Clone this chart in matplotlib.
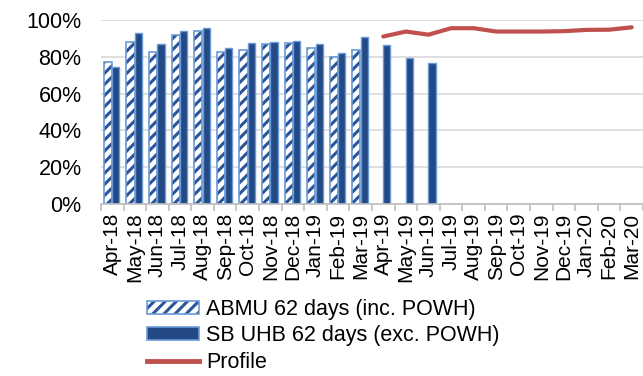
import matplotlib
matplotlib.use("Agg")
import matplotlib.pyplot as plt
import numpy as np
from matplotlib.patches import Patch
from matplotlib.lines import Line2D
from matplotlib.legend_handler import HandlerTuple
from matplotlib.ticker import PercentFormatter, FixedLocator

plt.rcParams['font.family'] = ['Liberation Sans', 'DejaVu Sans']
plt.rcParams['hatch.linewidth'] = 2.2

months = ["Apr-18", "May-18", "Jun-18", "Jul-18", "Aug-18", "Sep-18", "Oct-18", "Nov-18",
          "Dec-18", "Jan-19", "Feb-19", "Mar-19", "Apr-19", "May-19", "Jun-19", "Jul-19",
          "Aug-19", "Sep-19", "Oct-19", "Nov-19", "Dec-19", "Jan-20", "Feb-20", "Mar-20"]
abmu = [77.2, 88.2, 82.6, 92.0, 93.8, 82.6, 83.9, 87.1, 87.7, 85.0, 80.1, 83.9]
sbuhb = [74.6, 93.1, 87.0, 94.2, 95.7, 85.0, 87.5, 88.0, 88.8, 87.0, 82.1, 90.6,
         86.4, 79.5, 76.5]
profile_months = months[12:]
profile = [91.0, 93.7, 92.0, 95.5, 95.5, 93.7, 93.7, 93.7, 93.9, 94.6, 94.7, 96.0]

labels = ["ABMU 62 days (inc. POWH)", "SB UHB 62 days (exc. POWH)", "Profile"]

hatch_col = "#2B5597"
edge_light = "#6A9AD8"
sb_fill = "#244A86"
red = "#C0504D"

fig = plt.figure(figsize=(6.43, 3.76), dpi=100)
ax = fig.add_axes([0.157, 0.457, 0.843, 0.49])

x = np.arange(len(months))
xa = x[:len(abmu)]
xs = x[:len(sbuhb)]
ya = np.array(abmu) / 100
ys = np.array(sbuhb) / 100

ax.bar(xa - 0.19, ya, width=0.36, facecolor="white", edgecolor=hatch_col,
       hatch="///", linewidth=0, zorder=2)
ax.bar(xa - 0.19, ya, width=0.36, facecolor="none", edgecolor=edge_light,
       linewidth=1.2, zorder=3)
ax.bar(xs + 0.16, ys, width=0.32, facecolor=sb_fill, edgecolor=edge_light,
       linewidth=1.0, zorder=3)
xp = np.array([months.index(m) for m in profile_months])
ax.plot(xp, np.array(profile) / 100, color=red, linewidth=3, zorder=4,
        solid_capstyle="round")

ax.set_xlim(-0.5, len(months) - 0.5)
ax.set_ylim(0, 1.0)
ax.yaxis.set_major_formatter(PercentFormatter(1.0, decimals=0))
ax.set_yticks(np.arange(0, 1.01, 0.2))
ax.grid(axis="y", color="#D9D9D9", linewidth=1.2, zorder=0)
ax.set_axisbelow(True)
for s in ["top", "right", "left"]:
    ax.spines[s].set_visible(False)
ax.spines["bottom"].set_color("#BFBFBF")
ax.spines["bottom"].set_linewidth(1.2)
ax.spines["bottom"].set_zorder(5)

ax.set_xticks(x)
ax.set_xticklabels(months, rotation=90, fontsize=15)
ax.xaxis.set_minor_locator(FixedLocator(np.arange(-0.5, len(months), 1.0)))
ax.tick_params(axis="x", which="major", length=0, pad=6)
ax.tick_params(axis="x", which="minor", length=5, color="#BFBFBF", width=1.2)
ax.tick_params(axis="y", length=0, labelsize=15.5, pad=14)

h1a = Patch(facecolor="white", edgecolor=hatch_col, hatch="///", linewidth=0)
h1b = Patch(facecolor="none", edgecolor=edge_light, linewidth=1.2)
h2 = Patch(facecolor=sb_fill, edgecolor=edge_light, linewidth=1.2)
h3 = Line2D([], [], color=red, linewidth=3.5)
fig.legend([(h1a, h1b), h2, h3], labels,
           handler_map={tuple: HandlerTuple(ndivide=1)},
           loc="upper left", bbox_to_anchor=(0.228, 0.205), frameon=False,
           fontsize=15.5, handlelength=2.45, handleheight=0.55, handletextpad=0.3,
           labelspacing=0.25, borderaxespad=0, borderpad=0)

fig.savefig("out.png", dpi=100)
